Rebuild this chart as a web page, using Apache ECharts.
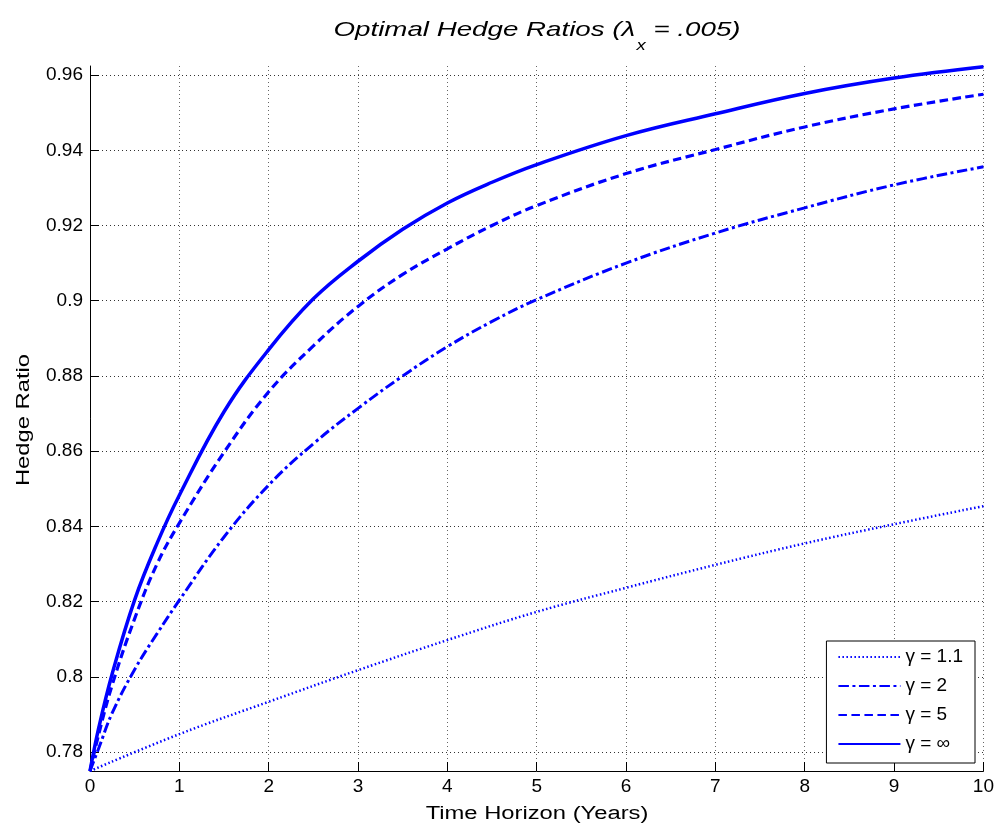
<!DOCTYPE html>
<html>
<head>
<meta charset="utf-8">
<title>Optimal Hedge Ratios</title>
<script src="https://cdn.jsdelivr.net/npm/echarts/dist/echarts.min.js"></script>
<style>
  html, body { margin: 0; padding: 0; background: #fff; }
  #chart { width: 997px; height: 831px; }
</style>
</head>
<body>
<div id="chart"></div>
<script>
// time horizon (years) sampled for the three steep curves
const horizon = [0, 0.1, 0.25, 0.5, 0.75, 1, 1.5, 2, 2.5, 3, 3.5, 4, 4.5, 5, 6, 7, 8, 9, 10];
const gammaInf = [0.775, 0.7867, 0.801, 0.8205, 0.8355, 0.8483, 0.8705, 0.887, 0.9005, 0.9105, 0.919, 0.926, 0.9315, 0.9362, 0.9439, 0.9497, 0.9551, 0.9592, 0.9622];
const gamma5 = [0.775, 0.785, 0.798, 0.8155, 0.830, 0.8409, 0.8597, 0.8758, 0.888, 0.8985, 0.907, 0.9138, 0.920, 0.9253, 0.9338, 0.9402, 0.9462, 0.951, 0.9549];
const gamma2 = [0.775, 0.7812, 0.7905, 0.802, 0.8115, 0.8204, 0.8372, 0.851, 0.862, 0.8714, 0.880, 0.8878, 0.8945, 0.9003, 0.910, 0.918, 0.9247, 0.9308, 0.9356];

// gamma = 1.1 is almost a straight line, yearly points are enough
const horizonDot = [0, 1, 2, 3, 4, 5, 6, 7, 8, 9, 10];
const gamma11 = [0.775, 0.7848, 0.7934, 0.8018, 0.8098, 0.8173, 0.8237, 0.8298, 0.8355, 0.8406, 0.8454];

const yTicks = [0.78, 0.8, 0.82, 0.84, 0.86, 0.88, 0.9, 0.92, 0.94, 0.96];
const seriesNames = ["γ = 1.1", "γ = 2", "γ = 5", "γ = ∞"];

const FONT = "Liberation Sans, Arial, sans-serif";
const BLUE = "#0000ff";

const pairs = (xs, ys) => xs.map((x, i) => [x, ys[i]]);

const chart = echarts.init(document.getElementById("chart"), null, { renderer: "canvas" });

const lineSeries = (name, xs, ys, lineStyle) => ({
  name: name,
  type: "line",
  data: pairs(xs, ys),
  symbol: "none",
  smooth: 0.4,
  lineStyle: Object.assign({ color: BLUE }, lineStyle),
  itemStyle: { color: BLUE }
});

const option = {
  backgroundColor: "#fff",
  animation: false,
  grid: { left: 90, right: 12, top: 66, bottom: 60, containLabel: false },
  // title and axis names are a bit wider than the tick font, so stretch them
  graphic: [
    {
      type: "text",
      x: 537, y: 30,
      scaleX: 1.32,
      style: {
        text: "{a|Optimal Hedge Ratios (λ}{s|x}{a| = .005)}",
        align: "center",
        verticalAlign: "middle",
        fill: "#000",
        rich: {
          a: { fontFamily: FONT, fontStyle: "italic", fontSize: 21, fill: "#000" },
          s: { fontFamily: FONT, fontStyle: "italic", fontSize: 14, fill: "#000", padding: [32, 0, 0, 1] }
        }
      }
    },
    {
      type: "text",
      x: 537, y: 814,
      scaleX: 1.32,
      style: {
        text: "Time Horizon (Years)",
        align: "center",
        verticalAlign: "middle",
        font: "18px " + FONT,
        fill: "#000"
      }
    },
    {
      type: "text",
      x: 24, y: 420,
      rotation: Math.PI / 2,
      scaleX: 1.32,
      style: {
        text: "Hedge Ratio",
        align: "center",
        verticalAlign: "middle",
        font: "18px " + FONT,
        fill: "#000"
      }
    }
  ],
  legend: {
    orient: "vertical",
    right: 22,
    top: 641,
    padding: [6, 12, 9, 11],
    itemGap: 9,
    itemWidth: 62,
    itemHeight: 14,
    backgroundColor: "#fff",
    borderColor: "#000",
    borderWidth: 1,
    borderRadius: 0,
    data: seriesNames,
    itemStyle: { opacity: 0 },   // line only, no marker in the legend
    textStyle: { fontFamily: FONT, fontSize: 19, lineHeight: 20, color: "#000" }
  },
  xAxis: {
    type: "value",
    min: 0,
    max: 10,
    interval: 1,
    axisLine: { show: true, lineStyle: { color: "#000", width: 1 } },
    axisTick: { show: true, inside: true, length: 9, lineStyle: { color: "#000" } },
    axisLabel: { color: "#000", fontFamily: FONT, fontSize: 19, margin: 6 },
    splitLine: { show: true, lineStyle: { color: "#666", width: 1, type: [1, 3] } }
  },
  yAxis: {
    type: "value",
    min: 0.775,
    max: 0.9624,
    axisLine: { show: true, lineStyle: { color: "#000", width: 1 } },
    axisTick: { show: true, inside: true, length: 9, customValues: yTicks, lineStyle: { color: "#000" } },
    axisLabel: {
      color: "#000", fontFamily: FONT, fontSize: 19, margin: 7,
      customValues: yTicks,
      formatter: (v) => String(+Number(v).toFixed(2))
    },
    splitLine: { show: true, lineStyle: { color: "#333", width: 1, type: [1, 3] } }
  },
  series: [
    lineSeries(seriesNames[0], horizonDot, gamma11, { width: 2.5, type: [1.5, 2.5] }),
    lineSeries(seriesNames[1], horizon, gamma2, { width: 3, type: [10.5, 3.5, 3, 3.5] }),
    lineSeries(seriesNames[2], horizon, gamma5, { width: 3.2, type: [8.5, 4.5] }),
    lineSeries(seriesNames[3], horizon, gammaInf, { width: 3.5, type: "solid" })
  ]
};

chart.setOption(option);
</script>
</body>
</html>
